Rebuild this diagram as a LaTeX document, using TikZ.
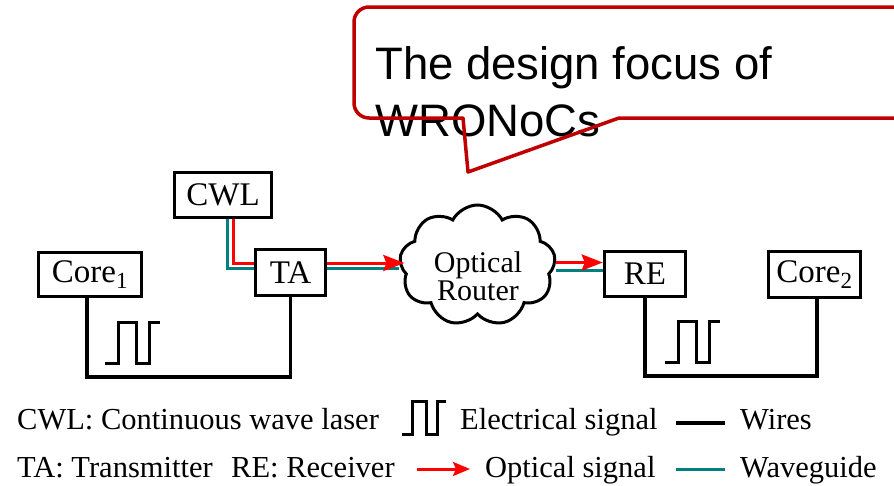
\documentclass[tikz,border=0pt]{standalone}
\usepackage{fontspec}
\setmainfont{Liberation Serif}
\newfontfamily\calloutfont{Liberation Sans}
\usetikzlibrary{shapes.symbols,arrows.meta,calc}
\definecolor{optred}{RGB}{255,0,0}
\definecolor{wgteal}{RGB}{0,128,128}
\definecolor{callred}{RGB}{192,0,0}
\tikzset{pics/pulse/.style={code={%
  \draw[pulsesym] (0,0) -- (13,0) -- (13,-41) -- (31,-41) -- (31,0) -- (44,0) -- (44,-41) -- (55,-41);}}}
\begin{document}
\begin{tikzpicture}[x=1pt,y=-1pt,
  box/.style={draw=black,line width=3.5pt,inner sep=0pt,font=\fontsize{33}{36}\selectfont},
  wire/.style={draw=black,line width=3.5pt},
  redline/.style={draw=optred,line width=3pt},
  tealline/.style={draw=wgteal,line width=3pt},
  redarrow/.style={redline,-{Stealth[length=21pt,width=16pt,inset=3pt]}},
  smallarrow/.style={redline,-{Stealth[length=17pt,width=14pt,inset=3pt]}},
  pulsesym/.style={draw=black,line width=3pt},
  legend/.style={anchor=base west,inner sep=0pt,font=\fontsize{30.5}{33}\selectfont},
  callout/.style={draw=callred,line width=3.5pt,line join=round},
  routerstyle/.style={cloud,draw=black,line width=3pt,cloud puffs=9,cloud puff arc=125,aspect=1.27,minimum width=156pt,minimum height=121pt,inner sep=0pt},
]
\useasboundingbox (0,0) rectangle (894,485);

% callout text
\node[anchor=north west,inner sep=0pt,align=left,font=\calloutfont\fontsize{45.5}{57}\selectfont] (focus) at (375,46) {The design focus of\\WRONoCs};
\draw[callout] (468,172) -- (463,118) [rounded corners=15pt] -- (354,118) -- (354,7) -- (915,7) -- (915,118) [sharp corners] -- (619,118) -- cycle;

% boxes
\node[box,minimum width=97pt,minimum height=45pt] (cwl) at (223,195) {CWL};
\node[box,minimum width=103pt,minimum height=44pt] (core1) at (90,274.5) {Core\textsubscript{1}};
\node[box,minimum width=70pt,minimum height=46pt] (ta) at (290.5,272.5) {TA};
\node[box,minimum width=81pt,minimum height=45pt] (re) at (645,274) {RE};
\node[box,minimum width=92pt,minimum height=46pt] (core2) at (814.5,274.5) {Core\textsubscript{2}};
\node[routerstyle] (router) at (477.5,265.5) {};
\node[inner sep=0pt,align=center,font=\fontsize{30}{28}\selectfont] (routertext) at (478,276) {Optical\\Router};

% wires
\coordinate (wl) at (0,377);
\coordinate (wr) at (0,376);
\draw[wire] ([xshift=-3pt]core1.south) -- ([xshift=-3pt]core1.south |- wl) -| (ta.south);
\draw[wire] (re.south) -- (re.south |- wr) -| ([xshift=2.5pt]core2.south);
\pic at (105,363) {pulse};
\pic at (665,362) {pulse};

% optical links
\draw[redline] ([xshift=10pt]cwl.south) |- ([yshift=9.5pt]ta.west);
\draw[tealline] ([xshift=4pt]cwl.south) |- ([yshift=4pt]ta.west);
\draw[tealline] ([yshift=4pt]ta.east) -- ([yshift=4pt]ta.east -| router.west);
\draw[redarrow] ([yshift=9.5pt]ta.east) -- ([yshift=9.5pt,xshift=5pt]ta.east -| router.west);
\draw[tealline] ([yshift=4pt]re.west -| router.east) -- ([yshift=4pt]re.west);
\draw[redarrow] ([yshift=11.5pt]re.west -| router.east) -- ([yshift=11.5pt]re.west);

% legend
\node[legend] (l1) at (17,429) {CWL: Continuous wave laser};
\pic[scale=0.8] at (402,434) {pulse};
\node[legend] (l2) at (460,429) {Electrical signal};
\coordinate (lw1) at (676,423);
\coordinate (lw2) at (725,423);
\draw[wire] (lw1) -- (lw2);
\node[legend] (l3) at (740,429) {Wires};
\node[legend] (l4) at (17,477) {TA: Transmitter};
\node[legend] (l5) at (231,477) {RE: Receiver};
\coordinate (la1) at (417,469);
\coordinate (la2) at (470,469);
\draw[smallarrow] (la1) -- (la2);
\node[legend] (l6) at (485,477) {Optical signal};
\coordinate (lt1) at (676,469);
\coordinate (lt2) at (725,469);
\draw[tealline] (lt1) -- (lt2);
\node[legend] (l7) at (740,477) {Waveguide};
\end{tikzpicture}
\end{document}
